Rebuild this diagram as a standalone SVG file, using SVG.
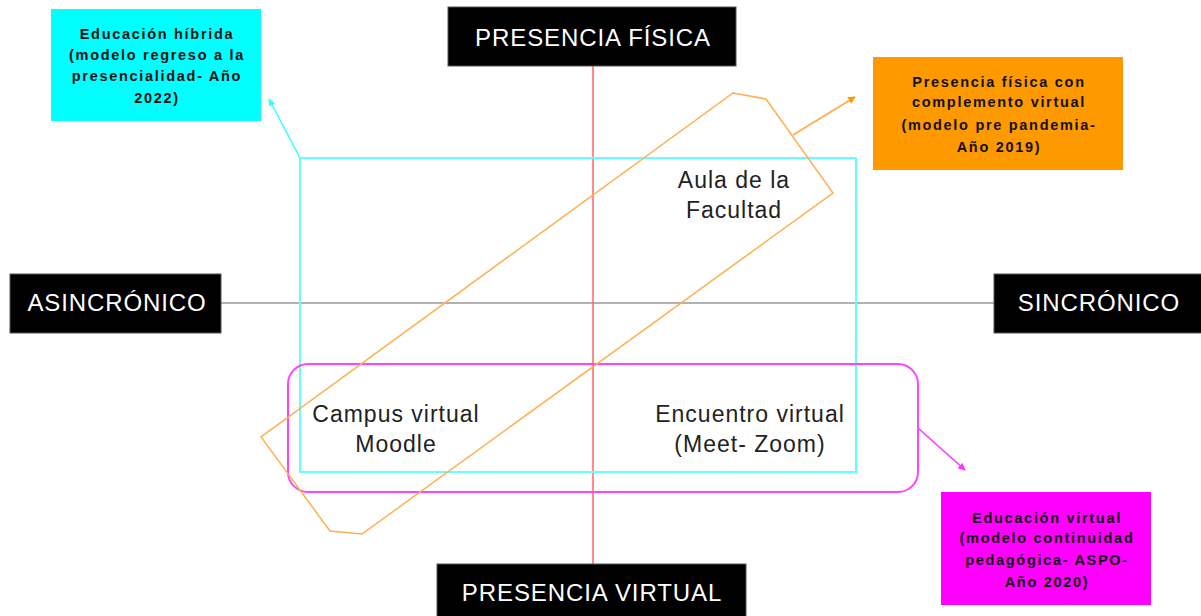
<svg xmlns="http://www.w3.org/2000/svg" width="1201" height="616" viewBox="0 0 1201 616">
<style>
.hdr{fill:#000;stroke:#555;stroke-width:1}
.ht{font-family:"Liberation Sans",Arial,sans-serif;font-size:24px;fill:#fff;text-anchor:middle;letter-spacing:0.9px}
.lt{font-family:"Liberation Sans",Arial,sans-serif;font-size:23px;fill:#222;text-anchor:middle;letter-spacing:1px}
.bt{font-family:"Liberation Sans",Arial,sans-serif;font-size:14.5px;font-weight:bold;fill:#111;text-anchor:middle;letter-spacing:1.7px}
</style>
<defs>
<marker id="mc" viewBox="0 0 10 10" refX="9" refY="5" markerWidth="5" markerHeight="5" orient="auto"><path d="M0,0 L10,5 L0,10 z" fill="#33ffff"/></marker>
<marker id="mo" viewBox="0 0 10 10" refX="9" refY="5" markerWidth="5" markerHeight="5" orient="auto"><path d="M0,0 L10,5 L0,10 z" fill="#ff9900"/></marker>
<marker id="mm" viewBox="0 0 10 10" refX="9" refY="5" markerWidth="5" markerHeight="5" orient="auto"><path d="M0,0 L10,5 L0,10 z" fill="#ff33ff"/></marker>
</defs>
<rect width="1201" height="616" fill="#fff"/>
<g id="connectors">
<line x1="221" y1="303" x2="994" y2="303" stroke="#999" stroke-width="1.5"/>
<line x1="593" y1="66" x2="593" y2="564" stroke="#ff6666" stroke-width="1.5"/>
<line x1="300" y1="158" x2="269" y2="99" stroke="#33ffff" stroke-width="1.5" marker-end="url(#mc)"/>
<line x1="793" y1="135" x2="855" y2="97" stroke="#ffaa44" stroke-width="1.5" marker-end="url(#mo)"/>
<line x1="918" y1="428" x2="965" y2="470" stroke="#ff33ff" stroke-width="1.5" marker-end="url(#mm)"/>
</g>
<g id="zone-hibrida"><rect x="300" y="158" width="556" height="314" fill="none" stroke="#66ffff" stroke-width="2"/></g>
<g id="zone-virtual"><rect x="288" y="364" width="630" height="128" rx="20" fill="none" stroke="#ff44ff" stroke-width="2"/></g>
<g id="zone-prepandemia"><polygon points="733,93 766,99 833,193 362,534 330,531 261,437" fill="none" stroke="#ffb050" stroke-width="1.5"/></g>
<g id="presencia-fisica"><rect class="hdr" x="448" y="7" width="288" height="59"/><text class="ht" x="593" y="46">PRESENCIA FÍSICA</text></g>
<g id="presencia-virtual"><rect class="hdr" x="437" y="564" width="309" height="60"/><text class="ht" x="592" y="601">PRESENCIA VIRTUAL</text></g>
<g id="asincronico"><rect class="hdr" x="10" y="274" width="211" height="59"/><text class="ht" x="117" y="311">ASINCRÓNICO</text></g>
<g id="sincronico"><rect class="hdr" x="994" y="274" width="210" height="59"/><text class="ht" x="1099" y="311">SINCRÓNICO</text></g>
<g id="aula"><text class="lt" x="734" y="188">Aula de la</text><text class="lt" x="734" y="218">Facultad</text></g>
<g id="campus"><text class="lt" x="396" y="422">Campus virtual</text><text class="lt" x="396" y="452">Moodle</text></g>
<g id="encuentro"><text class="lt" x="750" y="422">Encuentro virtual</text><text class="lt" x="750" y="452">(Meet- Zoom)</text></g>
<g id="educacion-hibrida"><rect x="51" y="9" width="210" height="112" fill="#00ffff"/>
<text class="bt" x="157" y="39">Educación híbrida</text><text class="bt" x="157" y="60">(modelo regreso a la</text><text class="bt" x="157" y="81">presencialidad- Año</text><text class="bt" x="157" y="103">2022)</text></g>
<g id="presencia-complemento"><rect x="873" y="57" width="250" height="113" fill="#ff9900"/>
<text class="bt" x="999" y="87">Presencia física con</text><text class="bt" x="999" y="107">complemento virtual</text><text class="bt" x="999" y="130">(modelo pre pandemia-</text><text class="bt" x="999" y="152">Año 2019)</text></g>
<g id="educacion-virtual"><rect x="941" y="492" width="210" height="113" fill="#ff00ff"/>
<text class="bt" x="1047" y="523">Educación virtual</text><text class="bt" x="1047" y="543">(modelo continuidad</text><text class="bt" x="1047" y="565">pedagógica- ASPO-</text><text class="bt" x="1047" y="587">Año 2020)</text></g>
</svg>
